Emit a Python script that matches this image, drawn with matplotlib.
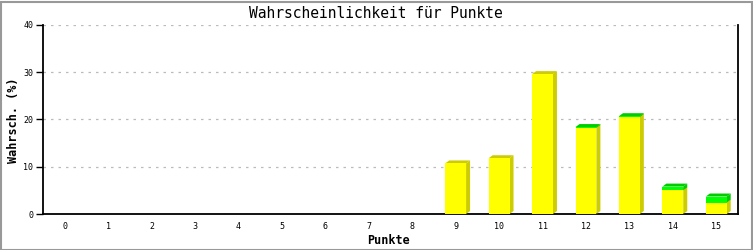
import matplotlib
matplotlib.use("Agg")
import matplotlib.pyplot as plt
from matplotlib.patches import Polygon, Rectangle

punkte = list(range(16))
tick_labels = [str(p) for p in punkte]
gelb = [0, 0, 0, 0, 0, 0, 0, 0, 0, 10.7, 11.8, 29.6, 18.2, 20.5, 5.0, 2.4]
gruen = [0, 0, 0, 0, 0, 0, 0, 0, 0, 0, 0, 0, 0.2, 0.2, 0.8, 1.3]
y_ticks = [0, 10, 20, 30, 40]

W, H = 753, 250
fig = plt.figure(figsize=(W / 100, H / 100), dpi=100)
fig.patch.set_facecolor("white")
fig.add_artist(Rectangle((0.5 / W, 0.5 / H), 1 - 2 / W, 1 - 2 / H, transform=fig.transFigure,
                         fill=False, edgecolor="#999999", linewidth=1.5))

L, R, T, B = 43, 738, 25, 214
ax = fig.add_axes([L / W, 1 - B / H, (R - L) / W, (B - T) / H])
xmin, xmax, ymin, ymax = -0.5, 15.5, 0, 40
ax.set_xlim(xmin, xmax)
ax.set_ylim(ymin, ymax)

font = "DejaVu Sans Mono"
dx = 4 * (xmax - xmin) / (R - L)
dy = 3 * (ymax - ymin) / (B - T)
width = 0.48

ax.set_axisbelow(True)
ax.yaxis.grid(True, linestyle=(0, (2, 4)), color="#bbbbbb", linewidth=0.9)


def draw_seg(x, y0, h, front, dark, z):
    if h <= 0:
        return
    y1 = y0 + h
    ax.bar(x, h, bottom=y0, width=width, color=front, linewidth=0, zorder=z)
    xr = x + width / 2
    xl = x - width / 2
    ax.add_patch(Polygon([(xr, y0), (xr + dx, y0 + dy), (xr + dx, y1 + dy), (xr, y1)],
                         closed=True, facecolor=dark, edgecolor="none", zorder=z - 0.1))
    ax.add_patch(Polygon([(xl, y1), (xl + dx, y1 + dy), (xr + dx, y1 + dy), (xr, y1)],
                         closed=True, facecolor=dark, edgecolor="none", zorder=z - 0.1))


for x, g, gr in zip(punkte, gelb, gruen):
    draw_seg(x, 0, g, "#ffff00", "#cccc00", 3)
    draw_seg(x, g, gr, "#00ff00", "#00cc00", 4)

ax.set_xticks(punkte)
ax.set_xticklabels(tick_labels, fontsize=6, family=font)
ax.set_yticks(y_ticks)
ax.set_yticklabels([str(v) for v in y_ticks], fontsize=6, family=font)
ax.tick_params(axis="x", length=0, pad=6)
ax.tick_params(axis="y", length=5, width=1, direction="out", pad=2)

for s in ["left", "bottom", "right"]:
    ax.spines[s].set_color("black")
    ax.spines[s].set_linewidth(1.3)
ax.spines["top"].set_visible(False)

fig.text(376 / W, 1 - 13 / H, "Wahrscheinlichkeit für Punkte", ha="center", va="center",
         fontsize=10.5, family=font)
fig.text(389 / W, 1 - 240 / H, "Punkte", ha="center", va="center",
         fontsize=8.5, family=font, fontweight="bold")
fig.text(14 / W, 1 - 120 / H, "Wahrsch. (%)", ha="center", va="center", rotation=90,
         fontsize=8.5, family=font, fontweight="bold")

fig.savefig("out.png", dpi=100)
